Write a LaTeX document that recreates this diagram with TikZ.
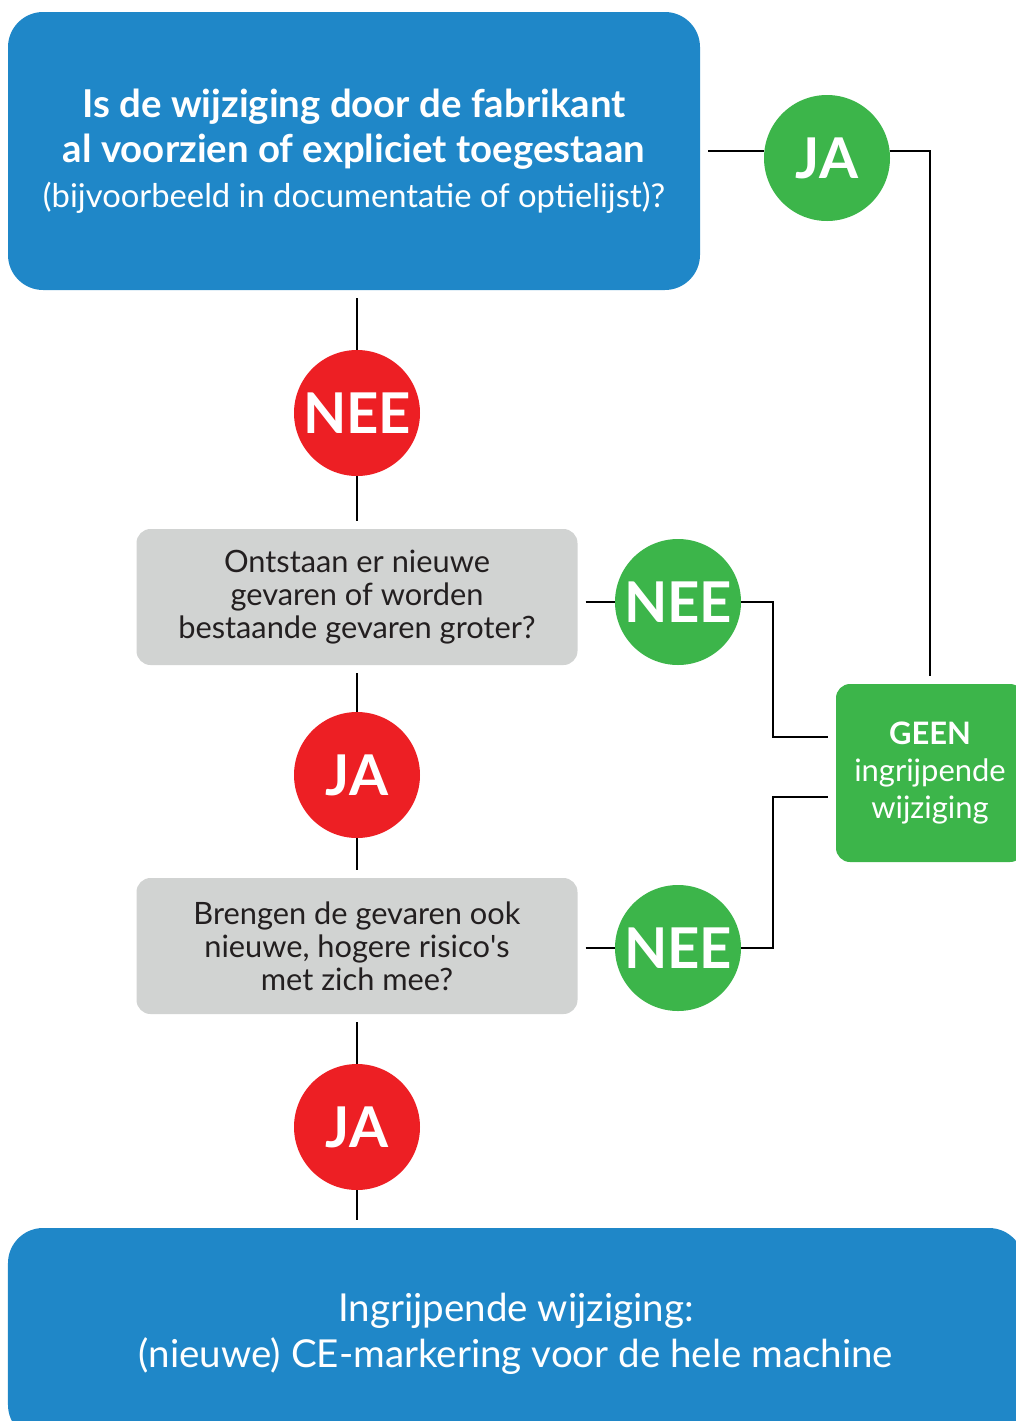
\documentclass[tikz,border=0pt]{standalone}
\usepackage{fontspec}
\setmainfont{Lato}
\usetikzlibrary{positioning}

\definecolor{blauw}{HTML}{1F87C8}
\definecolor{groen}{HTML}{3CB54A}
\definecolor{rood}{HTML}{ED1F24}
\definecolor{grijs}{HTML}{D1D3D2}
\definecolor{tekst}{HTML}{231F20}

\tikzset{
	blok/.style={rectangle, rounded corners=25pt, fill=blauw, text=white, align=center, outer sep=5.7pt},
	vraag/.style={rectangle, rounded corners=10pt, fill=grijs, text=tekst, align=center, minimum width=11.025cm, minimum height=3.4cm, outer sep=5.7pt, font=\fontsize{21.9}{23.5}\selectfont},
	rondje/.style={circle, minimum size=3.15cm, inner sep=0pt, text=white, font=\fontsize{40}{40}\selectfont\bfseries},
	lijn/.style={line width=1.3pt}
}

\begin{document}
\begin{tikzpicture}
		\clip (0,0) rectangle (25.4,-35.525);
		\node [blok, minimum width=17.3cm, minimum height=6.95cm, font=\fontsize{27.3}{32}\selectfont](Fabrikant) at (8.85,-3.775) {\textbf{Is de wijziging door de fabrikant}\\ \textbf{al voorzien of expliciet toegestaan}\\ {\fontsize{23.3}{32}\selectfont (bijvoorbeeld in documentatie of optielijst)?}};
		\node [rondje, fill=rood](NeeRood) at (8.925,-10.325) {NEE};
		\node [vraag](Gevaren) at (8.925,-14.925) {Ontstaan er nieuwe\\ gevaren of worden\\ bestaande gevaren groter?};
		\node [rondje, fill=rood](JaRood) at (8.925,-19.375) {JA};
		\node [vraag](Risico) at (8.925,-23.65) {Brengen de gevaren ook\\ nieuwe, hogere risico\textquotesingle s\\ met zich mee?};
		\node [rondje, fill=rood](JaRood2) at (8.925,-28.175) {JA};
		\node [blok, minimum width=25.4cm, minimum height=5.3cm, font=\fontsize{27.4}{33}\selectfont](Ingrijpend) at (12.9,-33.35) {Ingrijpende wijziging:\\ (nieuwe) CE-markering voor de hele machine};

		\node [rondje, fill=groen](JaGroen) at (20.675,-3.95) {JA};
		\node [rondje, fill=groen](NeeGroen) at (16.95,-15.05) {NEE};
		\node [rondje, fill=groen](NeeGroen2) at (16.95,-23.7) {NEE};
		\node [rectangle, rounded corners=10pt, fill=groen, text=white, align=center, minimum width=4.7cm, minimum height=4.45cm, outer sep=5.7pt, font=\fontsize{22}{26}\selectfont](Geen) at (23.25,-19.325) {\textbf{GEEN}\\ ingrijpende\\ wijziging};

		% NEE-lijn in het midden
		\draw [lijn](NeeRood |- Fabrikant.south)--(NeeRood);
		\draw [lijn](NeeRood)--(Gevaren);
		\draw [lijn](Gevaren)--(JaRood);
		\draw [lijn](JaRood)--(Risico);
		\draw [lijn](Risico)--(JaRood2);
		\draw [lijn](JaRood2)--(JaRood2 |- Ingrijpend.north);

		% naar GEEN ingrijpende wijziging
		\draw [lijn](Fabrikant.east)--(Fabrikant.east -| JaGroen.west);
		\draw [lijn](Fabrikant.east -| JaGroen.east) -| (Geen.north);
		\draw [lijn](NeeGroen.west -| Gevaren.east)--(NeeGroen.west);
		\draw [lijn](NeeGroen.east) -- ++(0.8,0) |- ([yshift=0.9cm]Geen.west);
		\draw [lijn](NeeGroen2.west -| Risico.east)--(NeeGroen2.west);
		\draw [lijn](NeeGroen2.east) -- ++(0.8,0) |- ([yshift=-0.6cm]Geen.west);
	\end{tikzpicture}
\end{document}
